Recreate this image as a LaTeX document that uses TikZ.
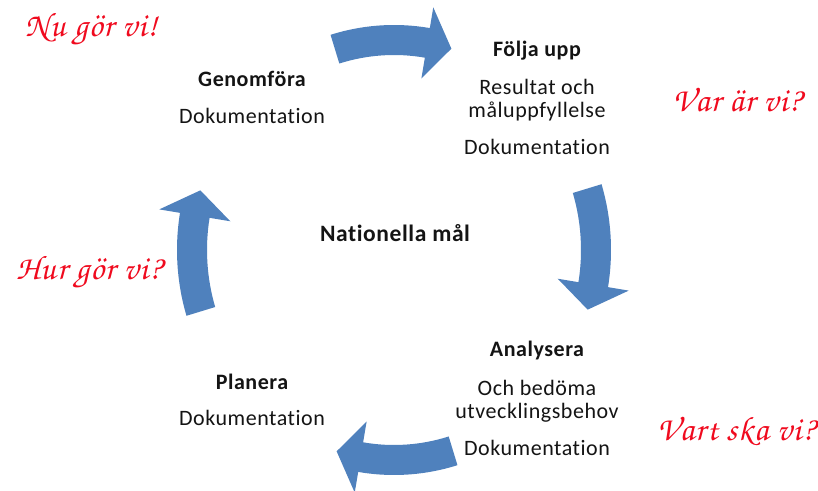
\documentclass[tikz,border=0pt]{standalone}
\usepackage{fontspec}
\setmainfont{Carlito}[Ligatures=NoCommon, LetterSpace=2.5]
\newfontfamily\chorus{texgyrechorus-mediumitalic.otf}[LetterSpace=3]
\usetikzlibrary{calc}
\definecolor{accentblue}{RGB}{79,129,189}
\definecolor{quest}{RGB}{240,10,30}
\definecolor{txt}{RGB}{20,20,20}
\tikzset{
  arrowfill/.style={fill=accentblue},
  title/.style={anchor=base, inner sep=0pt, text=txt, font=\fontsize{22}{26}\selectfont\bfseries},
  body/.style={anchor=base, inner sep=0pt, text=txt, font=\fontsize{22}{26}\selectfont},
  centre/.style={anchor=base, inner sep=0pt, text=txt, font=\fontsize{23.5}{28}\selectfont\bfseries},
  question/.style={anchor=base, inner sep=0pt, text=quest, font=\fontsize{34}{38}\chorus},
}
\begin{document}
\begin{tikzpicture}[x=1pt,y=1pt]
\useasboundingbox (0,0) rectangle (818,490);
\fill[white] (0,0) rectangle (818,490);
\coordinate (C) at (394,240);
% cycle arrows on an ellipse, clockwise
\def\ra{202}\def\rb{210}
\foreach \th in {90,0,-90,180}{
  \pgfmathsetmacro{\ta}{\th+17}
  \pgfmathsetmacro{\tb}{\th-9.5}
  \pgfmathsetmacro{\tt}{\th-16.5}
  \pgfmathsetmacro{\ao}{\ra+15}\pgfmathsetmacro{\bo}{\rb+15}
  \pgfmathsetmacro{\ai}{\ra-15}\pgfmathsetmacro{\bi}{\rb-15}
  \pgfmathsetmacro{\aho}{\ra+36}\pgfmathsetmacro{\bho}{\rb+36}
  \pgfmathsetmacro{\ahi}{\ra-36}\pgfmathsetmacro{\bhi}{\rb-36}
  \fill[arrowfill] ($(C)+(\ta:\ao pt and \bo pt)$)
    arc[start angle=\ta, end angle=\tb, x radius=\ao pt, y radius=\bo pt]
    -- ($(C)+(\tb:\aho pt and \bho pt)$)
    -- ($(C)+(\tt:\ra pt and \rb pt)$)
    -- ($(C)+(\tb:\ahi pt and \bhi pt)$)
    -- ($(C)+(\tb:\ai pt and \bi pt)$)
    arc[start angle=\tb, end angle=\ta, x radius=\ai pt, y radius=\bi pt]
    -- cycle;
}
% centre
\node[centre] (nat) at (395,248) {Nationella mål};
% Genomföra
\node[title] (gen) at (252,403) {Genomföra};
\node[body] (gend) at (252,366) {Dokumentation};
% Följa upp
\node[title] (fol) at (537,433) {Följa upp};
\node[body] (fol1) at (537,395) {Resultat och};
\node[body] (fol2) at (537,372) {måluppfyllelse};
\node[body] (fold) at (537,335) {Dokumentation};
% Analysera
\node[title] (ana) at (537,134) {Analysera};
\node[body] (ana1) at (537,95) {Och bedöma};
\node[body] (ana2) at (537,72) {utvecklingsbehov};
\node[body] (anad) at (537,35) {Dokumentation};
% Planera
\node[title] (pla) at (252,101) {Planera};
\node[body] (plad) at (252,65) {Dokumentation};
% questions
\node[question] (q1) at (91,453) {Nu gör vi!};
\node[question] (q2) at (737,378) {Var är vi?};
\node[question] (q3) at (89,210) {Hur gör vi?};
\node[question] (q4) at (736,50) {Vart ska vi?};
\end{tikzpicture}
\end{document}
